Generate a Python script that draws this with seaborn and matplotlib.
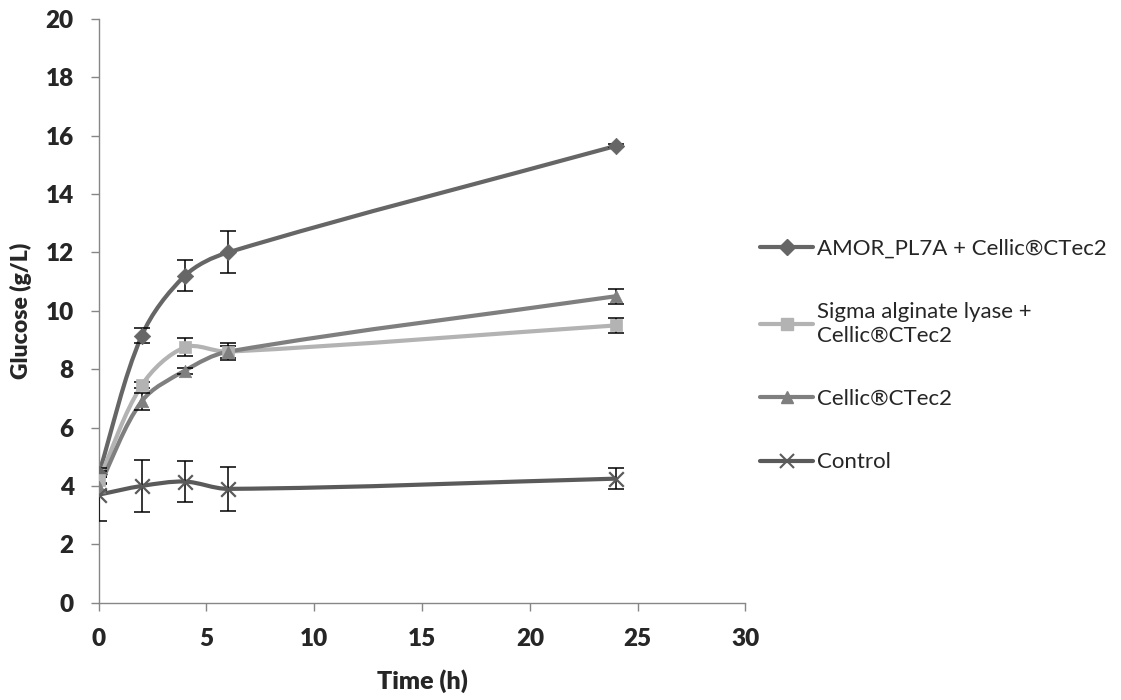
import numpy as np
import pandas as pd
import matplotlib
matplotlib.use("Agg")
import matplotlib.pyplot as plt
from matplotlib.path import Path
from matplotlib.patches import PathPatch
from matplotlib.lines import Line2D
import seaborn as sns

time_h = [0, 2, 4, 6, 24]
series_names = ["AMOR_PL7A + Cellic®CTec2", "Sigma alginate lyase +\nCellic®CTec2",
                "Cellic®CTec2", "Control"]
amor = [4.4, 9.15, 11.2, 12.0, 15.65]
amor_err = [0.1, 0.26, 0.53, 0.72, 0.05]
sigma = [4.2, 7.45, 8.75, 8.6, 9.5]
sigma_err = [0.1, 0.1, 0.31, 0.3, 0.25]
cellic = [3.95, 6.9, 7.95, 8.6, 10.5]
cellic_err = [0.1, 0.3, 0.1, 0.2, 0.25]
control = [3.7, 4.0, 4.15, 3.9, 4.25]
control_err = [0.9, 0.89, 0.7, 0.76, 0.35]
x_ticks = [0, 5, 10, 15, 20, 25, 30]
y_ticks = [0, 2, 4, 6, 8, 10, 12, 14, 16, 18, 20]

values = [amor, sigma, cellic, control]
errors = [amor_err, sigma_err, cellic_err, control_err]
colors = ["#666666", "#b3b3b3", "#7f7f7f", "#5a5a5a"]
markers = ["D", "s", "^", "x"]
msizes = [70, 75, 80, 110]

sns.set_theme(style="white")
plt.rcParams['font.family'] = ['Lato', 'DejaVu Sans']

fig = plt.figure(figsize=(11.21, 7.0), dpi=100)
ax = fig.add_axes([0.088, 0.139, 0.577, 0.834])
ax.set_xlim(0, 30)
ax.set_ylim(0, 20)

# px per data unit (for aspect-correct smoothing)
sx, sy = 21.57, 29.2

def smooth_path(x, y, t=0.33):
    P = np.column_stack([np.asarray(x, float) * sx, np.asarray(y, float) * sy])
    n = len(P)
    verts = [P[0]]
    codes = [Path.MOVETO]
    for i in range(n - 1):
        p0 = P[i - 1] if i > 0 else P[i]
        p1, p2 = P[i], P[i + 1]
        p3 = P[i + 2] if i + 2 < n else P[i + 1]
        d01 = np.linalg.norm(p1 - p0)
        d12 = np.linalg.norm(p2 - p1)
        d23 = np.linalg.norm(p3 - p2)
        c1 = p1 + t * (p2 - p0) * (d12 / (d01 + d12)) if d01 + d12 > 0 else p1
        c2 = p2 - t * (p3 - p1) * (d12 / (d12 + d23)) if d12 + d23 > 0 else p2
        verts += [c1, c2, p2]
        codes += [Path.CURVE4] * 3
    V = np.array(verts)
    V[:, 0] /= sx
    V[:, 1] /= sy
    return Path(V, codes)

rows = []
for name, vals in zip(series_names, values):
    for tt, v in zip(time_h, vals):
        rows.append({"Time": tt, "Glucose": v, "Series": name})
df = pd.DataFrame(rows)

for k, (name, vals, errs) in enumerate(zip(series_names, values, errors)):
    ax.add_patch(PathPatch(smooth_path(time_h, vals), facecolor="none",
                           edgecolor=colors[k], lw=3, zorder=2))
    ax.errorbar(time_h, vals, yerr=errs, fmt="none", ecolor="black",
                elinewidth=1.1, capsize=6, capthick=1.1, zorder=3)
    sub = df[df["Series"] == name]
    if markers[k] == "x":
        sns.scatterplot(data=sub, x="Time", y="Glucose", marker="x", s=msizes[k],
                        color=colors[k], linewidth=1.6, ax=ax, zorder=4, legend=False)
    else:
        sns.scatterplot(data=sub, x="Time", y="Glucose", marker=markers[k], s=msizes[k],
                        color=colors[k], edgecolor=colors[k], linewidth=0.5, ax=ax,
                        zorder=4, legend=False)

ax.set_xlim(0, 30)
ax.set_ylim(0, 20)
ax.set_xticks(x_ticks, labels=[str(v) for v in x_ticks], fontweight="heavy", fontsize=17.5)
ax.set_yticks(y_ticks, labels=[str(v) for v in y_ticks], fontweight="heavy", fontsize=17.5)
for s in ["top", "right"]:
    ax.spines[s].set_visible(False)
for s in ["left", "bottom"]:
    ax.spines[s].set_color("#868686")
    ax.spines[s].set_linewidth(1.0)
ax.tick_params(axis="both", which="major", direction="out", length=6, width=1.0,
               color="#868686", left=True, bottom=True)
ax.tick_params(axis="x", pad=12)
ax.tick_params(axis="y", pad=12)
ax.set_xlabel("Time (h)", fontsize=18, fontweight="heavy", labelpad=14)
ax.set_ylabel("Glucose (g/L)", fontsize=16.5, fontweight="heavy", labelpad=10)
ax.grid(False)

handles = []
for k in range(4):
    if markers[k] == "x":
        h = Line2D([], [], color=colors[k], lw=3, marker="x", markersize=10,
                   markeredgewidth=1.5, markeredgecolor=colors[k])
    else:
        h = Line2D([], [], color=colors[k], lw=3, marker=markers[k], markersize=8,
                   markerfacecolor=colors[k], markeredgecolor=colors[k])
    handles.append(h)
leg = fig.legend(handles, series_names, loc="upper left",
                 bbox_to_anchor=(0.660, 0.687), frameon=False, fontsize=16,
                 handlelength=2.4, handletextpad=0.15, labelspacing=1.95)

fig.savefig("out.png", dpi=100)
